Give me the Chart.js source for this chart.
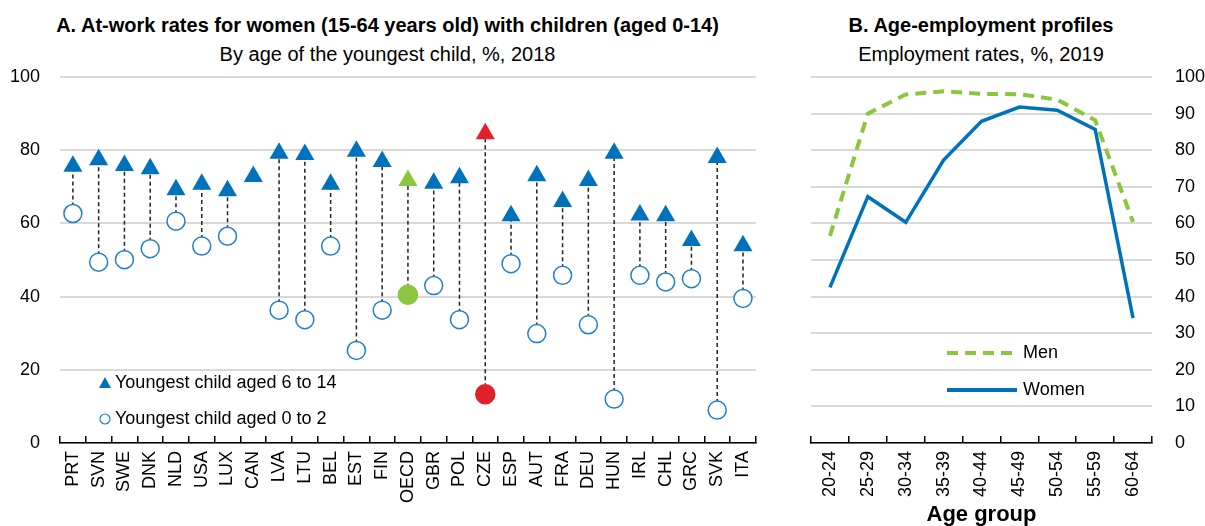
<!DOCTYPE html>
<html>
<head>
<meta charset="utf-8">
<script src="https://cdn.jsdelivr.net/npm/chart.js@4.4.1/dist/chart.umd.min.js"></script>
<style>
  body { margin: 0; background: #fff; }
  #wrap { position: relative; width: 1205px; height: 526px; overflow: hidden; font-family: 'Liberation Sans', Arial, sans-serif; color: #000; }
  .ttl { position: absolute; text-align: center; font-weight: bold; font-size: 20px; line-height: 20px; white-space: nowrap; }
  .sub { position: absolute; text-align: center; font-size: 20px; line-height: 20px; white-space: nowrap; }
  .box { position: absolute; top: 0; height: 526px; }
</style>
</head>
<body>
<div id="wrap">
  <div class="ttl" style="left:0;width:775px;top:15px">A. At-work rates for women (15-64 years old) with children (aged 0-14)</div>
  <div class="sub" style="left:0;width:775px;top:44px">By age of the youngest child, %, 2018</div>
  <div class="ttl" style="left:780px;width:402px;top:15px">B. Age-employment profiles</div>
  <div class="sub" style="left:780px;width:402px;top:44px">Employment rates, %, 2019</div>
  <div class="box" style="left:0;width:780px"><canvas id="chartA" width="780" height="526"></canvas></div>
  <div class="box" style="left:780px;width:425px"><canvas id="chartB" width="425" height="526"></canvas></div>
</div>
<script>
// panel A
const countries = ['PRT', 'SVN', 'SWE', 'DNK', 'NLD', 'USA', 'LUX', 'CAN', 'LVA', 'LTU', 'BEL', 'EST', 'FIN', 'OECD',
  'GBR', 'POL', 'CZE', 'ESP', 'AUT', 'FRA', 'DEU', 'HUN', 'IRL', 'CHL', 'GRC', 'SVK', 'ITA'];
const child6to14 = [75.6, 77.4, 75.8, 74.9, 69.2, 70.7, 68.9, 72.8, 79.2, 78.8, 70.7, 79.7, 76.9, 71.7,
  71.0, 72.5, 84.5, 62.1, 73.0, 66.0, 71.7, 79.2, 62.3, 62.1, 55.3, 78.0, 53.9];
const child0to2 = [62.7, 49.4, 50.1, 53.1, 60.6, 53.8, 56.5, null, 36.3, 33.7, 53.8, 25.3, 36.3, 40.5,
  43.0, 33.7, 13.3, 49.0, 29.9, 45.8, 32.3, 12.0, 45.8, 44.0, 44.9, 9.0, 39.5];
const ticksA = [0, 20, 40, 60, 80, 100];

// panel B
const ageGroups = ['20-24', '25-29', '30-34', '35-39', '40-44', '45-49', '50-54', '55-59', '60-64'];
const men = [56.6, 90.0, 95.2, 96.1, 95.4, 95.3, 93.8, 88.2, 60.4];
const women = [42.5, 67.3, 60.3, 77.3, 87.9, 91.8, 90.9, 85.7, 34.1];

const BLUE = '#0072BC';
const GREEN = '#8CC63F';
const RED = '#E3212B';
const GRID = '#D9D9D9';
const FONT = "'Liberation Sans', Arial, sans-serif";

Chart.defaults.font.family = FONT;
Chart.defaults.font.size = 18;
Chart.defaults.color = '#000';

const highlight = { OECD: GREEN, CZE: RED };
const triColors = countries.map(c => highlight[c] || BLUE);
const circFill = countries.map(c => highlight[c] || '#fff');
const circBorder = countries.map(c => highlight[c] || '#1F7FCC');

// dashed connectors between the two markers of each country
const connectors = {
  id: 'connectors',
  beforeDatasetsDraw(chart) {
    const ctx = chart.ctx, x = chart.scales.x, y = chart.scales.y;
    ctx.save();
    ctx.strokeStyle = '#222';
    ctx.lineWidth = 1.5;
    ctx.setLineDash([4, 3]);
    countries.forEach((c, i) => {
      if (child0to2[i] == null) return;
      const px = x.getPixelForValue(i);
      ctx.beginPath();
      ctx.moveTo(px, y.getPixelForValue(child0to2[i]));
      ctx.lineTo(px, y.getPixelForValue(child6to14[i]));
      ctx.stroke();
    });
    ctx.restore();
  }
};

const legendA = {
  id: 'legendA',
  afterDraw(chart) {
    const ctx = chart.ctx;
    const lx = 105;
    ctx.save();
    ctx.fillStyle = BLUE;
    ctx.beginPath();
    ctx.moveTo(lx, 377);
    ctx.lineTo(lx + 6, 388);
    ctx.lineTo(lx - 6, 388);
    ctx.closePath();
    ctx.fill();
    ctx.strokeStyle = '#1F7FCC';
    ctx.lineWidth = 1.2;
    ctx.beginPath();
    ctx.arc(lx, 419, 5, 0, Math.PI * 2);
    ctx.stroke();
    ctx.fillStyle = '#000';
    ctx.font = '18px ' + FONT;
    ctx.textBaseline = 'middle';
    ctx.fillText('Youngest child aged 6 to 14', 115, 383);
    ctx.fillText('Youngest child aged 0 to 2', 115, 419);
    ctx.restore();
  }
};

new Chart(document.getElementById('chartA'), {
  type: 'line',
  data: {
    labels: countries,
    datasets: [{
      label: 'Youngest child aged 6 to 14',
      data: child6to14,
      showLine: false,
      pointStyle: 'triangle',
      pointRadius: 11,
      pointBorderWidth: 0,
      pointBackgroundColor: triColors,
      pointBorderColor: triColors,
      clip: false
    }, {
      label: 'Youngest child aged 0 to 2',
      data: child0to2,
      showLine: false,
      pointStyle: 'circle',
      pointRadius: countries.map(c => highlight[c] ? 9.5 : 9),
      pointBorderWidth: 1.5,
      pointBackgroundColor: circFill,
      pointBorderColor: circBorder,
      clip: false
    }]
  },
  options: {
    responsive: false,
    animation: false,
    layout: { padding: { top: 77, right: 22, bottom: 0, left: 0 } },
    plugins: { legend: { display: false }, tooltip: { enabled: false } },
    scales: {
      x: {
        offset: true,
        grid: { offset: true, drawOnChartArea: false, drawTicks: true, tickLength: -7, color: '#000', lineWidth: 1.5 },
        border: { display: true, color: '#000', width: 1.5 },
        ticks: { autoSkip: false, minRotation: 90, maxRotation: 90, padding: 15 },
        afterFit: s => { s.height = 83; }
      },
      y: {
        min: 0, max: 100,
        afterBuildTicks: s => { s.ticks = ticksA.map(v => ({ value: v })); },
        grid: { color: GRID, lineWidth: 2, drawTicks: false },
        border: { display: false },
        ticks: { padding: 20 },
        afterFit: s => { s.width = 60; }
      }
    }
  },
  plugins: [connectors, legendA]
});

const legendB = {
  id: 'legendB',
  afterDraw(chart) {
    const ctx = chart.ctx;
    ctx.save();
    ctx.lineWidth = 4;
    ctx.strokeStyle = GREEN;
    ctx.setLineDash([11, 7]);
    ctx.beginPath();
    ctx.moveTo(167, 353);
    ctx.lineTo(237, 353);
    ctx.stroke();
    ctx.setLineDash([]);
    ctx.strokeStyle = BLUE;
    ctx.beginPath();
    ctx.moveTo(167, 390);
    ctx.lineTo(237, 390);
    ctx.stroke();
    ctx.fillStyle = '#000';
    ctx.font = '18px ' + FONT;
    ctx.textBaseline = 'middle';
    ctx.fillText('Men', 243, 353);
    ctx.fillText('Women', 243, 390);
    ctx.restore();
  }
};

new Chart(document.getElementById('chartB'), {
  type: 'line',
  data: {
    labels: ageGroups,
    datasets: [{
      label: 'Men',
      data: men,
      borderColor: GREEN,
      borderWidth: 4,
      borderDash: [11, 7],
      pointRadius: 0,
      tension: 0
    }, {
      label: 'Women',
      data: women,
      borderColor: BLUE,
      borderWidth: 3.5,
      pointRadius: 0,
      tension: 0
    }]
  },
  options: {
    responsive: false,
    animation: false,
    layout: { padding: { top: 77, right: 0, bottom: 0, left: 31 } },
    plugins: { legend: { display: false }, tooltip: { enabled: false } },
    scales: {
      x: {
        offset: true,
        grid: { offset: true, drawOnChartArea: false, drawTicks: true, tickLength: -7, color: '#000', lineWidth: 1.5 },
        border: { display: true, color: '#000', width: 1.5 },
        ticks: { autoSkip: false, minRotation: 90, maxRotation: 90, padding: 15 },
        title: { display: true, text: 'Age group', font: { size: 22, weight: 'bold', lineHeight: 1 }, padding: 0 },
        afterFit: s => { s.height = 83; }
      },
      y: {
        position: 'right',
        min: 0, max: 100,
        ticks: { stepSize: 10, padding: 23 },
        grid: { color: GRID, lineWidth: 2, drawTicks: false },
        border: { display: false },
        afterFit: s => { s.width = 53; }
      }
    }
  },
  plugins: [legendB]
});
</script>
</body>
</html>
